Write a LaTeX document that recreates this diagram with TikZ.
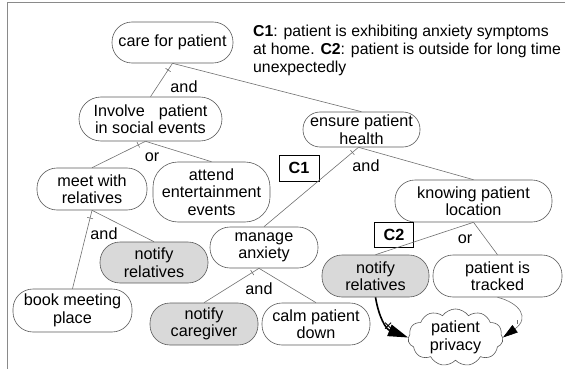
\documentclass[tikz,border=0pt]{standalone}
\usepackage{fontspec}
\setmainfont{Liberation Sans}
\usetikzlibrary{shapes.symbols,arrows.meta,calc}
\definecolor{edgegray}{HTML}{707070}
\definecolor{boxgray}{HTML}{5A5A5A}
\definecolor{goalfill}{HTML}{D9D9D9}
\definecolor{framegray}{HTML}{8A8A8A}

% small stroke across a decomposition link, close to its parent
\newcommand\goaltick[2]{%
  \path ($(#1)!8pt!(#2)$) coordinate (tk);
  \draw[link] ($(tk)!3pt!90:(#2)$) -- ($(tk)!3pt!-90:(#2)$);}

\begin{document}
\begin{tikzpicture}[x=1pt,y=-1pt,
  every node/.style={font=\fontsize{16.2}{17.5}\selectfont},
  goal/.style={draw=boxgray, line width=0.6pt, rounded corners=20pt,
    align=center, inner sep=0pt, fill=white},
  task/.style={goal, fill=goalfill},
  link/.style={draw=edgegray, line width=0.6pt},
  cond/.style={draw=black, line width=0.6pt, inner sep=0pt,
    font=\bfseries\fontsize{16.2}{17.5}\selectfont},
  lbl/.style={inner sep=0pt},
  legend/.style={inner sep=0pt, anchor=base west, font=\fontsize{15.8}{17.5}\selectfont},
  frame/.style={draw=framegray, line width=0.8pt}]

\useasboundingbox (0,0) rectangle (565,369);
\draw[frame] (565,2.5) -- (7,2.5) -- (7,369);

% goals and tasks
\node[goal, minimum width=121pt, minimum height=41pt] (care) at (172.5,42.5) {care for patient};
\node[goal, minimum width=143pt, minimum height=44pt, rounded corners=22pt] (involve) at (150.5,119) {Involve\hspace{14pt}patient\\in social events};
\node[goal, minimum width=110pt, minimum height=42pt] (meet) at (92,189) {meet with\\relatives};
\node[goal, minimum width=117pt, minimum height=60pt, rounded corners=25pt] (attend) at (211.5,192) {attend\\entertainment\\events};
\node[task, minimum width=108pt, minimum height=41pt] (notifyL) at (154,262.5) {notify\\relatives};
\node[goal, minimum width=119pt, minimum height=43pt] (book) at (72.5,310.5) {book meeting\\place};
\node[goal, minimum width=108pt, minimum height=41pt] (manage) at (264,247.5) {manage\\anxiety};
\node[task, minimum width=108pt, minimum height=42pt] (caregiver) at (204,324) {notify\\caregiver};
\node[goal, minimum width=108pt, minimum height=42pt] (calm) at (316,324) {calm patient\\down};
\node[goal, minimum width=117pt, minimum height=35pt, rounded corners=17pt] (ensure) at (361.5,129.5) {ensure patient\\health};
\node[goal, minimum width=157pt, minimum height=42pt] (knowing) at (473.5,201) {knowing patient\\location};
\node[task, minimum width=107pt, minimum height=42pt] (notifyR) at (375.5,276) {notify\\relatives};
\node[goal, minimum width=129pt, minimum height=42pt] (tracked) at (497.5,276) {patient is\\tracked};
\node[cloud, draw=boxgray, line width=0.6pt, cloud puffs=11, cloud puff arc=110,
  aspect=1.9, minimum width=95pt, minimum height=51pt, inner sep=0pt,
  align=center, fill=white] (privacy) at (455.5,337.5) {patient\\privacy};

% context conditions
\node[cond, minimum width=40pt, minimum height=26pt] (c1) at (299,168) {C1};
\node[cond, minimum width=39pt, minimum height=25pt] (c2) at (394,235) {C2};

% legend of the conditions
\node[legend] (note1) at (253,36.5) {\textbf{C1}: patient is exhibiting anxiety symptoms};
\node[legend] (note2) at (253,54.5) {at home. \textbf{C2}: patient is outside for long time};
\node[legend] (note3) at (253,72.5) {unexpectedly};

% decomposition links
\draw[link] (care.south) -- (involve.north);
\draw[link] (care.south) -- (ensure.north);
\goaltick{care.south}{involve.north}

\coordinate (jinv) at ($(involve.south)+(-5,0)$);
\draw[link] (jinv) -- (meet.north);
\draw[link] (jinv) -- (attend.north);
\goaltick{jinv}{meet.north}

\draw[link] (meet.south) -- (book.north);
\draw[link] (meet.south) -- (notifyL.north);
\goaltick{meet.south}{book.north}

\coordinate (jens) at ($(ensure.south)+(-3,0)$);
\draw[link] (jens) -- (manage.north);
\draw[link] (jens) -- (knowing.north);
\goaltick{jens}{manage.north}

\coordinate (jman) at ($(manage.south)+(-5,0)$);
\draw[link] (jman) -- (caregiver.north);
\draw[link] (jman) -- (calm.north);
\goaltick{jman}{caregiver.north}

\draw[link] (knowing.south) -- (notifyR.north);
\draw[link] (knowing.south) -- (tracked.north);

% decomposition labels
\node[lbl] (l1) at (184,87) {and};
\node[lbl] (l2) at (152,157) {or};
\node[lbl] (l3) at (104,234) {and};
\node[lbl] (l4) at (366,166) {and};
\node[lbl] (l5) at (259,289) {and};
\node[lbl] (l6) at (465,239) {or};

% contributions to the soft goal
\draw[line width=1.6pt, -{Triangle[length=20pt,width=12pt]}]
  (notifyR.south) .. controls (379,318) and (386,329) .. coordinate[pos=0.6] (brk) (privacy.west);
\draw[line width=0.8pt] ($(brk)+(-3,-3)$) -- ($(brk)+(3,3)$) ($(brk)+(-3,3)$) -- ($(brk)+(3,-3)$);

\draw[link, -{Triangle[length=15pt,width=9pt,black]}]
  (tracked.south) .. controls (520,303) and (530,318) .. coordinate[pos=0.72] (hlp) (privacy.east);
\draw[link] ($(hlp)+(0,-2)$) -- ($(hlp)+(0,2)$);
\end{tikzpicture}
\end{document}
